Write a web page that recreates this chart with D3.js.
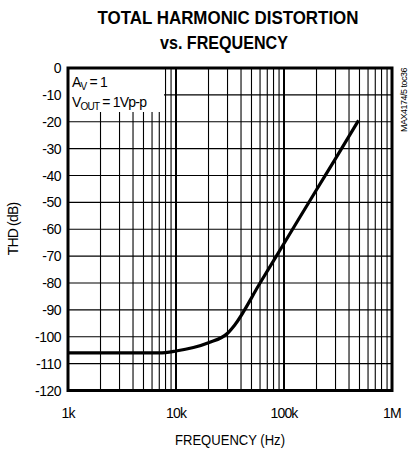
<!DOCTYPE html>
<html>
<head>
<meta charset="utf-8">
<script src="https://cdn.jsdelivr.net/npm/d3@7.9.0/dist/d3.min.js"></script>
<style>
  body { margin: 0; background: #fff; }
  svg { display: block; font-family: "Liberation Sans", Arial, sans-serif; }
</style>
</head>
<body>
<svg width="408" height="450"></svg>
<script>
// THD curve
const freqs = [1e3, 5e3, 7e3, 10e3, 14.5e3, 20e3, 30e3, 35e3, 60e3, 100e3, 200e3, 300e3, 490e3];
const thd   = [-106, -106, -106, -105.3, -104, -102.2, -98.7, -95.6, -80, -65.3, -45.3, -33.7, -19.5];

const yTicks = [0, -10, -20, -30, -40, -50, -60, -70, -80, -90, -100, -110, -120];
const xTicks = [1e3, 1e4, 1e5, 1e6];
const xTickLabels = ['1k', '10k', '100k', '1M'];

const svg = d3.select('svg');

const x = d3.scaleLog().domain([1e3, 1e6]).range([68, 392]);
const y = d3.scaleLinear().domain([-120, 0]).range([390.5, 68]);

// minor + major vertical grid
const vLines = [];
for (let dec = 1e3; dec < 1e6; dec *= 10) {
  for (let m = 1; m < 10; m++) vLines.push(dec * m);
}
const grid = svg.append('g');
grid.selectAll('line.v')
  .data(vLines)
  .join('line')
  .attr('x1', d => x(d)).attr('x2', d => x(d))
  .attr('y1', y(0)).attr('y2', y(-120))
  .attr('stroke', '#000')
  .attr('stroke-width', d => xTicks.includes(d) ? 2 : 1.1);

grid.selectAll('line.h')
  .data(yTicks)
  .join('line')
  .attr('x1', x(1e3)).attr('x2', x(1e6))
  .attr('y1', d => y(d)).attr('y2', d => y(d))
  .attr('stroke', '#000')
  .attr('stroke-width', 1.1);

// legend box hides the grid behind it
svg.append('rect')
  .attr('x', 69).attr('y', 69)
  .attr('width', 95).attr('height', 43)
  .attr('fill', '#fff');

const leg = svg.append('g').attr('font-size', 14).attr('letter-spacing', -0.8);
const l1 = leg.append('text').attr('x', 72).attr('y', 87);
l1.append('tspan').text('A');
l1.append('tspan').attr('font-size', 10).attr('dy', 3).text('V');
l1.append('tspan').attr('dy', -3).text(' = 1');
const l2 = leg.append('text').attr('x', 72).attr('y', 107);
l2.append('tspan').text('V');
l2.append('tspan').attr('font-size', 10).attr('dy', 3).text('OUT');
l2.append('tspan').attr('dy', -3).text(' = 1Vp-p');

// curve
svg.append('path')
  .datum(freqs.map((f, i) => [f, thd[i]]))
  .attr('fill', 'none')
  .attr('stroke', '#000')
  .attr('stroke-width', 3.2)
  .attr('d', d3.line().x(d => x(d[0])).y(d => y(d[1])).curve(d3.curveMonotoneX));

// frame
svg.append('rect')
  .attr('x', 68).attr('y', 68)
  .attr('width', 324).attr('height', 322.5)
  .attr('fill', 'none')
  .attr('stroke', '#000')
  .attr('stroke-width', 3);

// tick labels
svg.append('g').selectAll('text')
  .data(yTicks)
  .join('text')
  .attr('x', 61).attr('y', d => y(d))
  .attr('dy', '0.36em')
  .attr('text-anchor', 'end')
  .attr('font-size', 14)
  .attr('letter-spacing', -0.5)
  .text(d => d);

svg.append('g').selectAll('text')
  .data(xTicks)
  .join('text')
  .attr('x', d => x(d)).attr('y', 418)
  .attr('text-anchor', 'middle')
  .attr('font-size', 14)
  .attr('letter-spacing', -0.8)
  .text((d, i) => xTickLabels[i]);

// titles
svg.append('text')
  .attr('x', 228).attr('y', 24)
  .attr('text-anchor', 'middle')
  .attr('font-weight', 'bold').attr('font-size', 18)
  .attr('textLength', 261).attr('lengthAdjust', 'spacingAndGlyphs')
  .text('TOTAL HARMONIC DISTORTION');
svg.append('text')
  .attr('x', 224).attr('y', 49)
  .attr('text-anchor', 'middle')
  .attr('font-weight', 'bold').attr('font-size', 18)
  .attr('textLength', 128).attr('lengthAdjust', 'spacingAndGlyphs')
  .text('vs. FREQUENCY');

svg.append('text')
  .attr('x', 230).attr('y', 445)
  .attr('text-anchor', 'middle')
  .attr('font-size', 14)
  .attr('textLength', 110).attr('lengthAdjust', 'spacingAndGlyphs')
  .text('FREQUENCY (Hz)');

svg.append('text')
  .attr('transform', 'translate(18,229) rotate(-90)')
  .attr('text-anchor', 'middle')
  .attr('font-size', 14)
  .attr('letter-spacing', -0.8)
  .text('THD (dB)');

svg.append('text')
  .attr('transform', 'translate(407,68) rotate(-90)')
  .attr('text-anchor', 'end')
  .attr('font-size', 9)
  .attr('letter-spacing', -0.5)
  .text('MAX4174/5 toc36');
</script>
</body>
</html>
